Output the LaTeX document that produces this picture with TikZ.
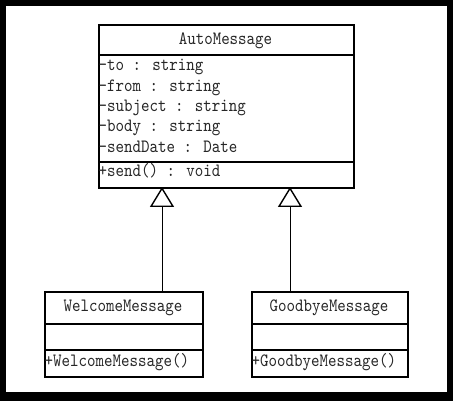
\documentclass[tikz,border=0pt]{standalone}
\usepackage{fontspec}
\newfontfamily\umlfont[Extension=.otf, FakeStretch=0.86]{lmmono10-regular}
\usetikzlibrary{arrows.meta}
\begin{document}
\begin{tikzpicture}[x=1pt,y=-1pt,
  part/.style={draw, line width=2pt, anchor=north west, inner sep=0pt, minimum width=#1},
  txt/.style={font=\fontsize{18.8}{22}\selectfont\umlfont, text=black!85, inner sep=0pt, anchor=base west},
  ttl/.style={font=\fontsize{18.8}{22}\selectfont\umlfont, text=black!85, inner sep=0pt, anchor=base},
  inherit/.style={line width=1pt, -{Triangle[open, width=24pt, length=20pt, line width=1.4pt]}}
]
\useasboundingbox (0,0) rectangle (453,401);
\fill[black] (0,0) rectangle (453,401);
\fill[white] (6,6) rectangle (447,392);

% AutoMessage
\node[part=255pt, minimum height=30pt] (amT) at (98,24) {};
\node[part=255pt, minimum height=107pt] (amA) at (98,54) {};
\node[part=255pt, minimum height=26pt] (amO) at (98,161) {};
\node[ttl] (amName) at (225.5,44.3) {AutoMessage};
\node[txt] (a1) at (98.5,71) {-to : string};
\node[txt] (a2) at (98.5,91.5) {-from : string};
\node[txt] (a3) at (98.5,112) {-subject : string};
\node[txt] (a4) at (98.5,132) {-body : string};
\node[txt] (a5) at (98.5,152.5) {-sendDate : Date};
\node[txt] (m1) at (98.5,176.5) {+send() : void};

% WelcomeMessage
\node[part=158pt, minimum height=32pt] (wmT) at (44,291) {};
\node[part=158pt, minimum height=26pt] (wmA) at (44,323) {};
\node[part=158pt, minimum height=27pt] (wmO) at (44,349) {};
\node[ttl] (wmName) at (123,311.5) {WelcomeMessage};
\node[txt] (wm1) at (44.5,366) {+WelcomeMessage()};

% GoodbyeMessage
\node[part=156pt, minimum height=32pt] (gmT) at (251,291) {};
\node[part=156pt, minimum height=26pt] (gmA) at (251,323) {};
\node[part=156pt, minimum height=27pt] (gmO) at (251,349) {};
\node[ttl] (gmName) at (329,311.5) {GoodbyeMessage};
\node[txt] (gm1) at (251.5,366) {+GoodbyeMessage()};

% generalizations
\coordinate (tipL) at (162,187);
\coordinate (tipR) at (290,187);
\draw[inherit] (wmT.north -| tipL) -- (tipL);
\draw[inherit] (gmT.north -| tipR) -- (tipR);
\end{tikzpicture}
\end{document}
